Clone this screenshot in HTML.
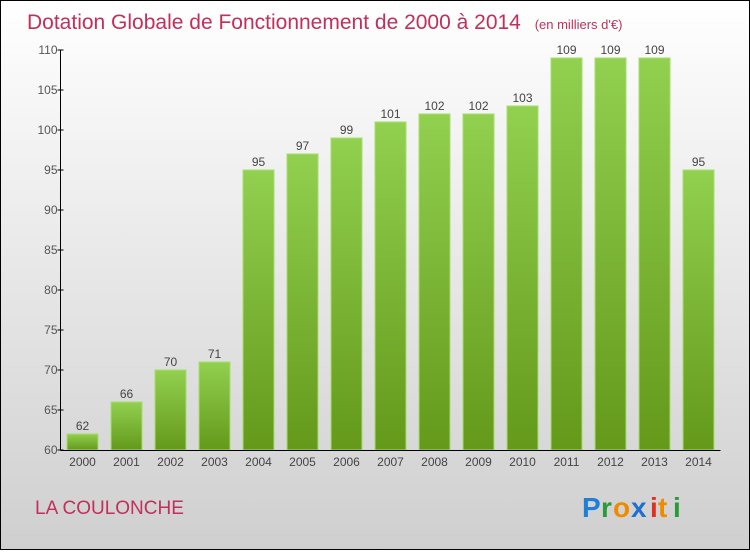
<!DOCTYPE html>
<html><head><meta charset="utf-8"><style>
body{margin:0}
#c{width:750px;height:550px;position:relative;font-family:"Liberation Sans",sans-serif}
</style></head><body>
<div id="c">
<svg width="750" height="550" xmlns="http://www.w3.org/2000/svg">
<defs>
<linearGradient id="bg" x1="0" y1="0" x2="0" y2="1"><stop offset="0" stop-color="#ffffff"/><stop offset="1" stop-color="#cfcfcf"/></linearGradient>
<linearGradient id="bar" x1="0" y1="0" x2="0" y2="1"><stop offset="0" stop-color="#92d050"/><stop offset="1" stop-color="#64991a"/></linearGradient>
</defs>
<rect x="0.5" y="0.5" width="749" height="549" fill="url(#bg)" stroke="#000"/>
<text x="27" y="29" font-size="21" fill="#c0305a">Dotation Globale de Fonctionnement de 2000 à 2014 <tspan font-size="13" dx="8">(en milliers d'€)</tspan></text>
<g id="bars"></g>
<g id="axes"></g>
<text x="35" y="514" font-size="19" fill="#c0305a">LA COULONCHE</text>
<g font-size="28" font-weight="bold" font-family="'Liberation Sans',sans-serif">
<text x="582" y="517" fill="#1f7fd8">P</text><text x="601" y="517" fill="#2a9a3a">r</text><text x="613" y="517" fill="#f08a00">o</text><text x="631" y="517" fill="#1f6fd0">x</text><text x="650" y="517" fill="#e03020">i</text><text x="658" y="517" fill="#f08a00">t</text><text x="673" y="517" fill="#2a9a3a">i</text>
</g>
</svg>
</div>
<script>
const years=["2000","2001","2002","2003","2004","2005","2006","2007","2008","2009","2010","2011","2012","2013","2014"];
const values=[62,66,70,71,95,97,99,101,102,102,103,109,109,109,95];
const yTicks=[60,65,70,75,80,85,90,95,100,105,110];
const NS="http://www.w3.org/2000/svg";
const x0=60.5,slot=44,yMin=60,yMax=110,yTop=50,yBot=450;
const y=v=>yBot-(v-yMin)/(yMax-yMin)*(yBot-yTop);
function mk(t,a,p){const e=document.createElementNS(NS,t);for(const k in a)e.setAttribute(k,a[k]);p.appendChild(e);return e;}
const bg=document.getElementById('bars'),ag=document.getElementById('axes');
values.forEach((v,i)=>{
 const cx=x0+slot*i+slot/2;
 const r=mk('rect',{x:cx-15.5,y:y(v),width:31,height:yBot-y(v),fill:'url(#bar)',stroke:'#a8dc70','stroke-width':1},bg);
 
 
 const t=mk('text',{x:cx,y:y(v)-4,'text-anchor':'middle','font-size':12,fill:'#444'},bg);
 t.textContent=v;
 
 
 const xl=mk('text',{x:cx,y:466,'text-anchor':'middle','font-size':12,fill:'#444'},ag);
 xl.textContent=years[i];
 
 
});
const ya=mk('line',{x1:x0,y1:yTop,x2:x0,y2:yBot,stroke:'#000'},ag);


const xa=mk('line',{x1:x0,y1:yBot+0.5,x2:x0+slot*years.length,y2:yBot+0.5,stroke:'#000'},ag);


yTicks.forEach(v=>{
 mk('line',{x1:x0-3,y1:y(v),x2:x0+3,y2:y(v),stroke:'#000'},ag);
 const t=mk('text',{x:x0-3,y:y(v)+4,'text-anchor':'end','font-size':12,fill:'#555'},ag);
 t.textContent=v;
 
 
});
</script>
</body></html>
